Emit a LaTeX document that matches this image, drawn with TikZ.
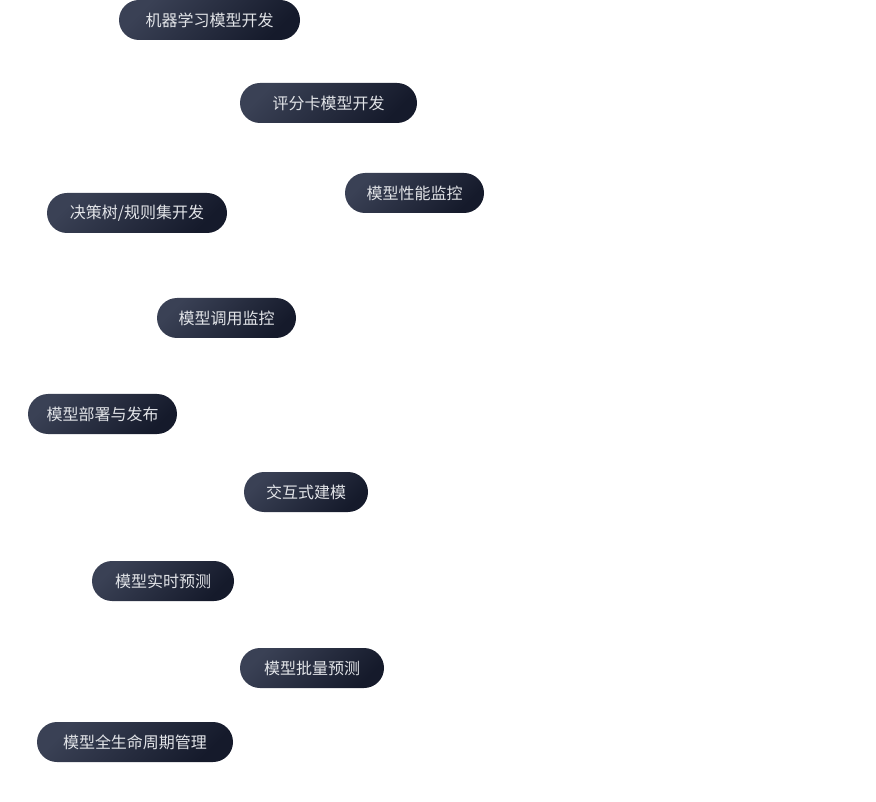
\documentclass[tikz,border=0pt]{standalone}
\usepackage{fontspec}
\setmainfont{Noto Sans CJK SC}
\usetikzlibrary{shapes.misc}
\definecolor{pilltop}{HTML}{3A4155}
\definecolor{pillbot}{HTML}{151A2B}
\definecolor{pilltext}{HTML}{E2E4E8}

\begin{document}
\begin{tikzpicture}[x=1pt,y=-1pt,
  every node/.style={rounded rectangle,top color=pilltop,bottom color=pillbot,
                     shading angle=45,text=pilltext,font=\fontsize{16}{18}\selectfont,
                     minimum height=40pt,inner xsep=0pt,inner ysep=0pt}]
\useasboundingbox (0,0) rectangle (876,802);
\node (ml)      [minimum width=181pt] at (209.5,20)  {机器学习模型开发};
\node (score)   [minimum width=177pt] at (328.5,103) {评分卡模型开发};
\node (perf)    [minimum width=139pt] at (414.5,193) {模型性能监控};
\node (tree)    [minimum width=180pt] at (137,213)   {决策树/规则集开发};
\node (callmon) [minimum width=139pt] at (226.5,318) {模型调用监控};
\node (deploy)  [minimum width=149pt] at (102.5,414) {模型部署与发布};
\node (inter)   [minimum width=124pt] at (306,492)   {交互式建模};
\node (realtime)[minimum width=142pt] at (163,581)   {模型实时预测};
\node (batch)   [minimum width=144pt] at (312,668)   {模型批量预测};
\node (life)    [minimum width=196pt] at (135,742)   {模型全生命周期管理};
\end{tikzpicture}
\end{document}
